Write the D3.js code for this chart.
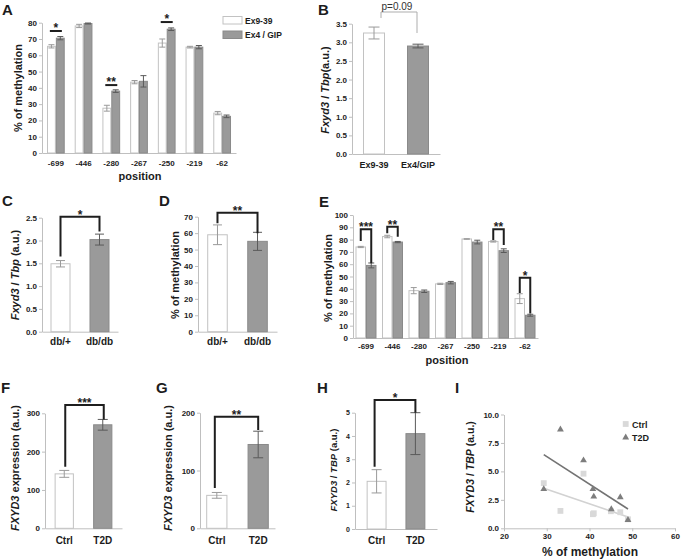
<!DOCTYPE html>
<html><head><meta charset="utf-8">
<script src="https://cdn.jsdelivr.net/npm/d3@7"></script>
<style>body{margin:0;background:#fff;} svg{display:block;font-family:"Liberation Sans",Arial,sans-serif;}</style>
</head><body><svg id="c" width="683" height="560"></svg>
<script>
// ---------- DATA ----------
const positions = ["-699","-446","-280","-267","-250","-219","-62"];
// Panel A
const aEx939    = [65.5, 78, 27.5, 43.5, 67.5, 65, 24.5];
const aEx939Err = [1, 1, 1.8, 1, 2.5, 0.5, 1];
const aEx4GIP    = [70.5, 79.5, 38, 44, 76, 65, 22.5];
const aEx4GIPErr = [1, 0.3, 0.8, 3.5, 0.8, 1, 0.8];
const aSig = [{pos:"-699", level:74.9, label:"*"},{pos:"-280", level:41.7, label:"**"},{pos:"-250", level:80.4, label:"*"}];
const aTicks = [0,10,20,30,40,50,60,70,80];
// Panel B
const bGroups = ["Ex9-39","Ex4/GIP"];
const bValues = [3.25, 2.9];
const bErr = [0.16, 0.05];
const bTicks = [0,0.5,1,1.5,2,2.5,3,3.5];
// Panel C
const mouseGroups = ["db/+","db/db"];
const cValues = [1.49, 2.02];
const cErr = [0.07, 0.12];
const cTicks = [0,0.5,1,1.5,2,2.5];
// Panel D
const dValues = [59, 55];
const dErr = [6, 5.5];
const dTicks = [0,10,20,30,40,50,60,70];
// Panel E
const eDbPlus    = [74, 82.5, 38.5, 44, 80.5, 78.5, 32];
const eDbPlusErr = [0.5, 1, 2.5, 0.5, 0.2, 0.5, 4];
const eDbDb      = [59, 78, 38, 45, 78, 71, 18.5];
const eDbDbErr   = [2, 0.5, 1, 1, 1.5, 1.5, 0.8];
const eSig = [{pos:"-699", top:88.4, l:78.9, r:60.8, label:"***"},{pos:"-446", top:90.5, l:85.1, r:82.4, label:"**"},
              {pos:"-219", top:88.4, l:79.7, r:75.6, label:"**"},{pos:"-62", top:49, l:36.5, r:20, label:"*"}];
const eTicks = [0,10,20,30,40,50,60,70,80,90,100];
// Panels F, G, H
const humanGroups = ["Ctrl","T2D"];
const fValues = [142, 270]; const fErr = [9, 14]; const fTicks = [0,100,200,300];
const gValues = [57, 145];  const gErr = [5, 23];  const gTicks = [0,100,200];
const hValues = [2.05, 4.1]; const hErr = [0.5, 0.9]; const hTicks = [0,1,2,3,4,5];
// Panel I
const iCtrlX = [29.3, 33.2, 38.6, 40.8, 41.0, 45.0, 47.2, 49.0];
const iCtrlY = [3.97, 1.53, 4.8, 1.24, 1.32, 1.5, 1.41, 0.79];
const iT2DX  = [29.3, 33.2, 38.6, 40.8, 41.0, 45.1, 47.2, 49.0];
const iT2DY  = [3.44, 8.68, 5.97, 3.44, 2.79, 1.68, 2.73, 0.73];
const iCtrlFit = [[29.3, 3.52],[49.0, 1.0]];
const iT2DFit  = [[29.3, 6.47],[49.0, 1.70]];
const iXTicks = [20,30,40,50,60];
const iYTicks = [0,2.5,5,7.5,10];

// ---------- STYLE ----------
const FONT = '"Liberation Sans", Arial, sans-serif';
const AXIS="#bfbfbf", TXT="#1c1c1c", WFILL="#ffffff", WSTROKE="#c2c2c2", GFILL="#9a9a9a", GSTROKE="#8a8a8a",
      WERR="#9a9a9a", GERR="#5a5a5a", BR="#1e1e1e";
const svg = d3.select("#c");

function styleAxis(ax, fs){
  ax.attr("font-family", FONT);
  ax.select(".domain").attr("stroke", AXIS);
  ax.selectAll(".tick line").attr("stroke", AXIS);
  ax.selectAll(".tick text").attr("fill", TXT).attr("font-size", fs).attr("font-weight","bold");
}
function yAxis(y, x, ticks, fmt, fs){
  const ax = svg.append("g").attr("transform",`translate(${x},0)`)
    .call(d3.axisLeft(y).tickValues(ticks).tickFormat(fmt).tickSize(3).tickSizeOuter(0).tickPadding(2));
  styleAxis(ax, fs);
}
function xAxis(xs, y, pad, fs){
  const ax = svg.append("g").attr("transform",`translate(0,${y})`)
    .call(d3.axisBottom(xs).tickSize(0).tickSizeOuter(0).tickPadding(pad));
  styleAxis(ax, fs);
}
function bar(x, w, v, e, y, white, capW){
  svg.append("rect").attr("x", x+0.5).attr("y", y(v)).attr("width", w-1).attr("height", y(0)-y(v))
    .attr("fill", white?WFILL:GFILL).attr("stroke", white?WSTROKE:GSTROKE).attr("stroke-width",1);
  const cx = x + w/2, c = white?WERR:GERR;
  const g = svg.append("g").attr("stroke", c).attr("stroke-width",1);
  g.append("line").attr("x1",cx).attr("x2",cx).attr("y1",y(v-e)).attr("y2",y(v+e));
  g.append("line").attr("x1",cx-capW/2).attr("x2",cx+capW/2).attr("y1",y(v-e)).attr("y2",y(v-e));
  g.append("line").attr("x1",cx-capW/2).attr("x2",cx+capW/2).attr("y1",y(v+e)).attr("y2",y(v+e));
}
function bracket(x1, x2, yTop, yL, yR, label, fs){
  svg.append("path").attr("d",`M${x1},${yL}V${yTop}H${x2}V${yR}`).attr("fill","none")
    .attr("stroke",BR).attr("stroke-width",2);
  svg.append("text").attr("x",(x1+x2)/2).attr("y",yTop+2).attr("text-anchor","middle")
    .attr("font-family",FONT).attr("font-weight","bold").attr("font-size",fs||12).attr("fill",TXT).text(label);
}
function text(x, y, s, fs, opts={}){
  const t = svg.append("text").attr("x",x).attr("y",y).attr("font-family",FONT)
    .attr("font-size",fs).attr("font-weight", opts.weight||"bold").attr("fill",opts.fill||TXT)
    .attr("text-anchor", opts.anchor||"middle");
  if (opts.rotate) t.attr("transform",`rotate(-90,${x},${y})`);
  if (Array.isArray(s)) s.forEach(p=>t.append("tspan").attr("font-style",p[1]?"italic":"normal").text(p[0]));
  else t.text(s);
  return t;
}
function panelLetter(x,y,s){ text(x,y,s,15,{anchor:"start"}); }

// ---------- PANEL A ----------
{
  const y = d3.scaleLinear().domain([0,80]).range([153,22.7]);
  const x = d3.scaleBand().domain(positions).range([42,236]).paddingInner(0.36).paddingOuter(0.18);
  const x1 = d3.scaleBand().domain(["w","g"]).range([0,x.bandwidth()]);
  yAxis(y, 42, aTicks, d3.format("d"), 8);
  xAxis(x, 153, 7, 8);
  positions.forEach((p,i)=>{
    bar(x(p)+x1("w"), x1.bandwidth(), aEx939[i], aEx939Err[i], y, true, 6);
    bar(x(p)+x1("g"), x1.bandwidth(), aEx4GIP[i], aEx4GIPErr[i], y, false, 6);
  });
  aSig.forEach(s=>{
    const cx = x(s.pos)+x.bandwidth()/2;
    svg.append("line").attr("x1",cx-6).attr("x2",cx+6).attr("y1",y(s.level)).attr("y2",y(s.level))
      .attr("stroke",BR).attr("stroke-width",2);
    text(cx, y(s.level)+1, s.label, 12);
  });
  text(22, 88, "% of methylation", 11, {rotate:true});
  text(140, 180, "position", 11);
  // legend
  svg.append("rect").attr("x",223).attr("y",16.5).attr("width",19).attr("height",7.5).attr("fill",WFILL).attr("stroke",WSTROKE);
  svg.append("rect").attr("x",223).attr("y",31).attr("width",19).attr("height",7.5).attr("fill",GFILL).attr("stroke",GSTROKE);
  text(245, 23.5, "Ex9-39", 8.5, {anchor:"start"});
  text(245, 38, "Ex4 / GIP", 8.5, {anchor:"start"});
  panelLetter(2, 15, "A");
}
// ---------- PANEL B ----------
{
  const y = d3.scaleLinear().domain([0,3.5]).range([154,23.7]);
  const x = d3.scaleBand().domain(bGroups).range([352,440]).paddingInner(0.5).paddingOuter(0.25);
  yAxis(y, 352, bTicks, d3.format(".1f"), 8);
  xAxis(x, 154, 7.5, 9);
  bGroups.forEach((g,i)=> bar(x(g), x.bandwidth(), bValues[i], bErr[i], y, i===0, 11));
  svg.append("path").attr("d","M381,18V12H417V33").attr("fill","none").attr("stroke","#adadad").attr("stroke-width",1);
  text(397, 9.5, "p=0.09", 10, {weight:"normal", fill:"#333"});
  text(329, 90, [["Fxyd3",true],[" / ",false],["Tbp",true],["(a.u.)",false]], 11, {rotate:true});
  panelLetter(318, 15, "B");
}
// ---------- PANEL C ----------
{
  const y = d3.scaleLinear().domain([0,2.5]).range([331.7,217.7]);
  const x = d3.scaleBand().domain(mouseGroups).range([42,118]).paddingInner(0.487).paddingOuter(0.218);
  yAxis(y, 42, cTicks, d3.format(".1f"), 8);
  xAxis(x, 331.7, 6, 10);
  mouseGroups.forEach((g,i)=> bar(x(g), x.bandwidth(), cValues[i], cErr[i], y, i===0, 9));
  const c0 = x(mouseGroups[0])+x.bandwidth()/2, c1 = x(mouseGroups[1])+x.bandwidth()/2;
  bracket(c0, c1, y(2.52), y(1.65), y(2.2), "*", 12);
  text(19, 275, [["Fxyd3",true],[" / ",false],["Tbp",true],[" (a.u.)",false]], 11, {rotate:true});
  panelLetter(2, 206, "C");
}
// ---------- PANEL D ----------
{
  const y = d3.scaleLinear().domain([0,70]).range([331.7,216.7]);
  const x = d3.scaleBand().domain(mouseGroups).range([198,277]).paddingInner(0.487).paddingOuter(0.23);
  yAxis(y, 198, dTicks, d3.format("d"), 8);
  xAxis(x, 331.7, 6, 10);
  mouseGroups.forEach((g,i)=> bar(x(g), x.bandwidth(), dValues[i], dErr[i], y, i===0, 9));
  const c0 = x(mouseGroups[0])+x.bandwidth()/2, c1 = x(mouseGroups[1])+x.bandwidth()/2;
  bracket(c0, c1, y(72.4), y(66), y(60), "**", 12);
  text(179, 275, "% of methylation", 11, {rotate:true});
  panelLetter(159, 206, "D");
}
// ---------- PANEL E ----------
{
  const y = d3.scaleLinear().domain([0,100]).range([338,215]);
  const x = d3.scaleBand().domain(positions).range([353,538]).paddingInner(0.2075).paddingOuter(0.094);
  const x1 = d3.scaleBand().domain(["w","g"]).range([0,x.bandwidth()]);
  yAxis(y, 353, eTicks, d3.format("d"), 8);
  xAxis(x, 338, 5.5, 8);
  positions.forEach((p,i)=>{
    bar(x(p)+x1("w"), x1.bandwidth(), eDbPlus[i], eDbPlusErr[i], y, true, 6);
    bar(x(p)+x1("g"), x1.bandwidth(), eDbDb[i], eDbDbErr[i], y, false, 6);
  });
  eSig.forEach(s=>{
    const cw = x(s.pos)+x1("w")+x1.bandwidth()/2, cg = x(s.pos)+x1("g")+x1.bandwidth()/2;
    bracket(cw, cg, y(s.top), y(s.l), y(s.r), s.label, 12);
  });
  text(332, 278, "% of methylation", 11, {rotate:true});
  text(447, 364, "position", 11);
  panelLetter(319, 207, "E");
}
// ---------- PANEL F ----------
{
  const y = d3.scaleLinear().domain([0,300]).range([528.3,413.3]);
  const x = d3.scaleBand().domain(humanGroups).range([45,122]).paddingInner(0.5).paddingOuter(0.25);
  yAxis(y, 45, fTicks, d3.format("d"), 8);
  xAxis(x, 528.3, 8.5, 10);
  humanGroups.forEach((g,i)=> bar(x(g), x.bandwidth(), fValues[i], fErr[i], y, i===0, 10));
  const c0 = x(humanGroups[0])+x.bandwidth()/2, c1 = x(humanGroups[1])+x.bandwidth()/2;
  bracket(c0+1, c1+1, y(321.7), y(160.7), y(284), "***", 12);
  text(19, 468, [["FXYD3",true],[" expression (a.u.)",false]], 11, {rotate:true});
  panelLetter(1, 393, "F");
}
// ---------- PANEL G ----------
{
  const y = d3.scaleLinear().domain([0,200]).range([528.3,412.7]);
  const x = d3.scaleBand().domain(humanGroups).range([200,275]).paddingInner(0.487).paddingOuter(0.15);
  yAxis(y, 200, gTicks, d3.format("d"), 8);
  xAxis(x, 528.3, 8.5, 10);
  humanGroups.forEach((g,i)=> bar(x(g), x.bandwidth(), gValues[i], gErr[i], y, i===0, 10));
  const c0 = x(humanGroups[0])+x.bandwidth()/2, c1 = x(humanGroups[1])+x.bandwidth()/2;
  bracket(c0-2, c1, y(193), y(69.7), y(170), "**", 12);
  text(172, 468, [["FXYD3",true],[" expression (a.u.)",false]], 11, {rotate:true});
  panelLetter(156, 393, "G");
}
// ---------- PANEL H ----------
{
  const y = d3.scaleLinear().domain([0,5]).range([529,412.7]);
  const x = d3.scaleBand().domain(humanGroups).range([355,437]).paddingInner(0.487).paddingOuter(0.3);
  yAxis(y, 355, hTicks, d3.format("d"), 7);
  xAxis(x, 529, 8, 10);
  humanGroups.forEach((g,i)=> bar(x(g), x.bandwidth(), hValues[i], hErr[i], y, i===0, 10));
  const c0 = x(humanGroups[0])+x.bandwidth()/2, c1 = x(humanGroups[1])+x.bandwidth()/2;
  bracket(c0-2, c1, y(5.55), y(2.68), y(5.0), "*", 12);
  text(337, 470, [["FXYD3",true],[" / ",false],["TBP",true],[" (a.u.)",false]], 9.5, {rotate:true});
  panelLetter(317, 393, "H");
}
// ---------- PANEL I ----------
{
  const x = d3.scaleLinear().domain([20,60]).range([504,675]);
  const y = d3.scaleLinear().domain([0,10]).range([528.3,414.5]);
  const ax = svg.append("g").attr("transform","translate(0,528.3)")
    .call(d3.axisBottom(x).tickValues(iXTicks).tickFormat(d3.format("d")).tickSize(3).tickSizeOuter(0).tickPadding(2));
  styleAxis(ax, 8);
  yAxis(y, 504, iYTicks, d3.format(".1f"), 8);
  const line = d3.line().x(d=>x(d[0])).y(d=>y(d[1]));
  svg.append("path").attr("d", line(iCtrlFit)).attr("stroke","#d2d2d2").attr("stroke-width",1.6).attr("fill","none");
  svg.append("path").attr("d", line(iT2DFit)).attr("stroke","#737373").attr("stroke-width",1.6).attr("fill","none");
  const sq = d3.symbol().type(d3.symbolSquare).size(34);
  const tri = d3.symbol().type(d3.symbolTriangle).size(20);
  iCtrlX.forEach((v,i)=> svg.append("path").attr("d",sq()).attr("transform",`translate(${x(v)},${y(iCtrlY[i])})`).attr("fill","#d9d9d9"));
  iT2DX.forEach((v,i)=> svg.append("path").attr("d",tri()).attr("transform",`translate(${x(v)},${y(iT2DY[i])})`).attr("fill","#7d7d7d"));
  svg.append("path").attr("d",sq()).attr("transform","translate(625.7,424)").attr("fill","#d9d9d9");
  svg.append("path").attr("d",tri()).attr("transform","translate(625.7,437.5)").attr("fill","#7d7d7d");
  text(632, 427.5, "Ctrl", 9, {anchor:"start"});
  text(632, 441, "T2D", 9, {anchor:"start"});
  text(590, 556, "% of methylation", 12);
  text(474, 467, [["FXYD3",true],[" / ",false],["TBP",true],[" (a.u.)",false]], 10.5, {rotate:true});
  panelLetter(455, 393, "I");
}
</script></body></html>
